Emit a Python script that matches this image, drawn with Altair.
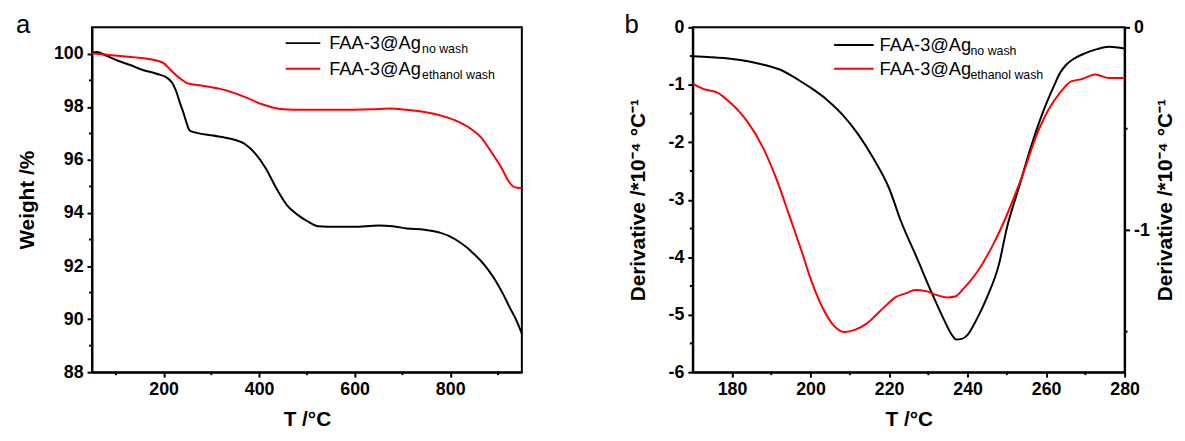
import altair as alt
import pandas as pd

FONT = "Liberation Sans"
SERIES = ["FAA-3@Ag no wash", "FAA-3@Ag ethanol wash"]
COLORS = ["#000000", "#ff0000"]
LEG_MAIN = ["FAA-3@Ag", "FAA-3@Ag"]
LEG_SUB = ["no wash", "ethanol wash"]

# ---- panel a: TGA weight ----
ta_black = [50, 60, 80, 103, 130, 155, 185, 207, 218, 226, 234, 242, 248, 255, 270, 303, 340, 370,
            392, 414, 436, 458, 480, 501, 524, 560, 598, 650, 680, 709, 746, 780, 798, 820, 835,
            850, 864, 880, 895, 910, 924, 940, 950]
wa_black = [100.05, 100.07, 99.93, 99.75, 99.58, 99.4, 99.25, 99.1, 98.9, 98.6, 98.16, 97.75, 97.4,
            97.1, 97.02, 96.92, 96.8, 96.6, 96.24, 95.68, 94.93, 94.3, 93.94, 93.69, 93.5, 93.48,
            93.48, 93.53, 93.5, 93.42, 93.37, 93.25, 93.13, 92.9, 92.7, 92.45, 92.2, 91.85, 91.45,
            90.97, 90.46, 89.9, 89.45]
ta_red = [50, 103, 155, 185, 200, 214, 236, 251, 281, 318, 347, 377, 406, 428, 451, 488, 562, 636,
          673, 709, 746, 783, 812, 842, 864, 886, 908, 923, 932, 939, 950]
wa_red = [100.02, 99.93, 99.84, 99.75, 99.65, 99.4, 99.05, 98.88, 98.8, 98.68, 98.53, 98.32, 98.1,
          97.98, 97.91, 97.89, 97.89, 97.91, 97.94, 97.89, 97.81, 97.66, 97.48, 97.19, 96.86, 96.3,
          95.68, 95.18, 95.0, 94.96, 94.93]
xa_major = [200, 400, 600, 800]
xa_minor = [100, 300, 500, 700, 900]
ya_major = [88, 90, 92, 94, 96, 98, 100]
ya_minor = [89, 91, 93, 95, 97, 99]

# ---- panel b: derivative ----
tb_black = [170, 174.5, 180, 184, 188, 193, 197, 200, 204, 208, 212, 216, 220, 223, 227, 231, 234,
            236, 237, 238.5, 240, 242, 245, 248, 250, 253, 256, 259, 262, 263.5, 265, 267, 270, 273,
            276, 280]
db_black = [-0.505, -0.52, -0.55, -0.59, -0.65, -0.76, -0.92, -1.05, -1.25, -1.51, -1.85, -2.28, -2.8,
            -3.37, -4.0, -4.64, -5.09, -5.35, -5.43, -5.42, -5.35, -5.12, -4.69, -4.12, -3.49, -2.8,
            -2.11, -1.51, -1.02, -0.8, -0.66, -0.55, -0.45, -0.38, -0.34, -0.37]
tb_red = [170, 172.6, 176.4, 178, 180, 182, 184, 188, 191.7, 194.5, 197.4, 200.2, 203, 205.8, 208.6,
          211.4, 214.2, 218, 221.8, 224.6, 226.5, 229.4, 232.2, 235, 237, 238.9, 242.7, 246.5, 250.4,
          254, 257.9, 260.7, 263.5, 266.4, 269.2, 272.5, 275.8, 280]
db_red = [-0.98, -1.07, -1.14, -1.22, -1.34, -1.48, -1.65, -2.11, -2.71, -3.26, -3.83, -4.41, -4.87,
          -5.18, -5.3, -5.26, -5.16, -4.92, -4.69, -4.62, -4.57, -4.59, -4.66, -4.7, -4.68, -4.55,
          -4.23, -3.78, -3.2, -2.57, -1.82, -1.42, -1.14, -0.94, -0.9, -0.82, -0.88, -0.88]
xb_major = [180, 200, 220, 240, 260, 280]
xb_minor = [190, 210, 230, 250, 270]
yb_major = [-6, -5, -4, -3, -2, -1, 0]
yb_minor = [-5.5, -4.5, -3.5, -2.5, -1.5, -0.5]
yr_major = [0, -1]
yr_minor = [-0.5, -1.5]

Y_TITLE_B = "Derivative /*10⁻⁴ °C⁻¹"

H = 349
WA = 435
WB = 437


def series_df(tx, vy, name):
    return pd.DataFrame({"T": tx, "V": vy, "s": name})


def legend_layers(x0, x1, xt, y0, dy, subdx):
    out = []
    for i in range(2):
        yy = y0 + dy * i
        out.append(alt.Chart().mark_rule(strokeWidth=2, color=COLORS[i]).encode(
            x=alt.value(x0), x2=alt.value(x1), y=alt.value(yy)))
        out.append(alt.Chart().mark_text(text=LEG_MAIN[i], font=FONT, fontSize=18.5, align="left",
                                         baseline="middle", color="black").encode(
            x=alt.value(xt), y=alt.value(yy)))
        out.append(alt.Chart().mark_text(text=LEG_SUB[i], font=FONT, fontSize=12.5, align="left",
                                         baseline="middle", color="black").encode(
            x=alt.value(xt + subdx), y=alt.value(yy + 6)))
    return out


def panel(df_lines, xdom, ydom, xmaj, xmin_, ymaj, ymin_, ytitle, W, letter, letter_x,
          leg, ytitle_pad):
    xs = alt.Scale(domain=xdom, nice=False, zero=False)
    ys = alt.Scale(domain=ydom, nice=False, zero=False)
    xax = alt.Axis(values=xmaj, title="T /°C", labelExpr="'' + datum.value", titlePadding=10,
                   labelFlush=False)
    yax = alt.Axis(values=ymaj, title=ytitle, labelExpr="'' + datum.value", titlePadding=ytitle_pad)
    lines = alt.Chart(df_lines).mark_line(strokeWidth=2, interpolate="monotone").encode(
        x=alt.X("T:Q", scale=xs, axis=xax),
        y=alt.Y("V:Q", scale=ys, axis=yax),
        color=alt.Color("s:N", scale=alt.Scale(domain=SERIES, range=COLORS), legend=None),
    )
    mx = alt.Chart(pd.DataFrame({"T": xmin_})).mark_rule(strokeWidth=2, color="black").encode(
        x=alt.X("T:Q", scale=xs, axis=xax), y=alt.value(H), y2=alt.value(H + 3))
    my = alt.Chart(pd.DataFrame({"V": ymin_})).mark_rule(strokeWidth=2, color="black").encode(
        y=alt.Y("V:Q", scale=ys, axis=yax), x=alt.value(0), x2=alt.value(-3))
    lab = alt.Chart().mark_text(text=letter, font=FONT, fontSize=26, align="left",
                                baseline="alphabetic", color="black").encode(
        x=alt.value(letter_x), y=alt.value(6))
    return alt.layer(lines, mx, my, lab, *leg)


df_a = pd.concat([series_df(ta_black, wa_black, SERIES[0]), series_df(ta_red, wa_red, SERIES[1])])
df_b = pd.concat([series_df(tb_black, db_black, SERIES[0]), series_df(tb_red, db_red, SERIES[1])])

panel_a = panel(df_a, [50, 950], [88, 101], xa_major, xa_minor, ya_major, ya_minor, "Weight /%",
                WA, "a", -77, legend_layers(196, 231, 240, 16, 26, 94), 16).properties(width=WA, height=H)

left_b = panel(df_b, [170, 280], [-6, 0], xb_major, xb_minor, yb_major, yb_minor, Y_TITLE_B,
               WB, "b", -69, legend_layers(143, 183, 189, 18, 24, 92), 20)
right_b = alt.Chart(pd.DataFrame({"R": yr_minor})).mark_rule(strokeWidth=2, color="black").encode(
    y=alt.Y("R:Q", scale=alt.Scale(domain=[-1.7, 0], nice=False, zero=False),
            axis=alt.Axis(orient="right", values=yr_major, title=Y_TITLE_B, titleAngle=270,
                          titleBaseline="top", labelExpr="'' + datum.value", titlePadding=5)),
    x=alt.value(WB), x2=alt.value(WB + 3))
panel_b = alt.layer(left_b, right_b).resolve_scale(y="independent").properties(width=WB, height=H)

chart = alt.hconcat(panel_a, panel_b, spacing=98).properties(
    padding={"left": 7, "top": 1, "right": 0, "bottom": 0}
).configure(
    font=FONT
).configure_axis(
    grid=False, domainColor="black", domainWidth=2, tickColor="black", tickWidth=2, tickSize=5,
    labelFont=FONT, labelFontSize=18, labelFontWeight="bold", labelColor="black", labelPadding=4,
    titleFont=FONT, titleFontSize=21, titleFontWeight="bold", titleColor="black",
).configure_view(stroke="black", strokeWidth=2)

chart.save("out.html", embed_options={"renderer": "svg", "actions": False})
